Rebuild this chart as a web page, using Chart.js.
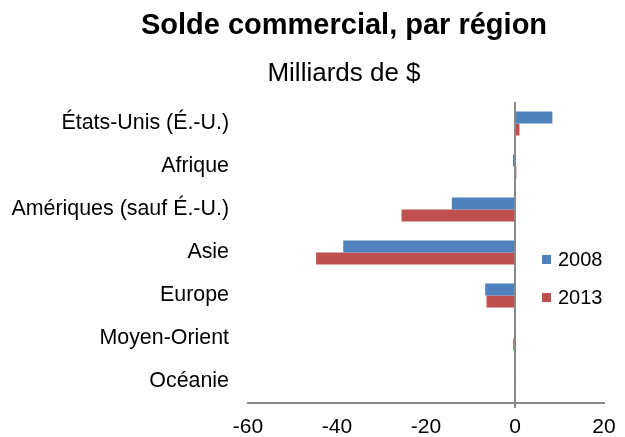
<!DOCTYPE html>
<html>
<head>
<meta charset="utf-8">
<script src="https://cdn.jsdelivr.net/npm/chart.js@4.4.0/dist/chart.umd.min.js"></script>
<style>
    html, body { margin: 0; padding: 0; background: #fff; }
    #wrap { position: relative; width: 625px; height: 437px; }
    #legend { position: absolute; left: 542px; top: 246px; font: 20px 'Liberation Sans', Arial, sans-serif; color: #000; }
    .item { display: flex; align-items: center; height: 26px; margin-bottom: 12px; }
    .box { width: 9px; height: 9px; margin-right: 7px; }
</style>
</head>
<body>
<div id="wrap">
    <canvas id="chart" width="625" height="437"></canvas>
    <div id="legend"></div>
</div>
<script>
// Data
var regions = ['États-Unis (É.-U.)', 'Afrique', 'Amériques (sauf É.-U.)', 'Asie', 'Europe', 'Moyen-Orient', 'Océanie'];
var seriesNames = ['2008', '2013'];
var values2008 = [8.4, -0.45, -14.2, -38.6, -6.7, 0.2, 0.2];
var values2013 = [1.0, 0.3, -25.5, -44.7, -6.4, -0.4, -0.2];
var xTicks = [-60, -40, -20, 0, 20];
var colors = ['#4F81BD', '#C0504D'];

var fontFamily = "'Liberation Sans', Arial, sans-serif";
var axisGray = '#898989';

// The title block in the reference is centred a bit right of the canvas centre
var titleShift = {
    id: 'titleShift',
    afterLayout: function(chart) {
        chart.boxes.forEach(function(b) {
            if (b.position === 'top' && b.options && b.options.text) {
                b.left += 42;
                b.right += 42;
            }
        });
    }
};

var ctx = document.getElementById('chart').getContext('2d');
var chart = new Chart(ctx, {
    type: 'bar',
    data: {
        labels: regions,
        datasets: [{
            label: seriesNames[0],
            data: values2008,
            backgroundColor: colors[0],
            categoryPercentage: 0.56,
            barPercentage: 1.0
        }, {
            label: seriesNames[1],
            data: values2013,
            backgroundColor: colors[1],
            categoryPercentage: 0.56,
            barPercentage: 1.0
        }]
    },
    plugins: [titleShift],
    options: {
        indexAxis: 'y',
        responsive: false,
        animation: false,
        layout: {
            padding: { left: 0, right: 21, top: 6, bottom: 0 }
        },
        scales: {
            x: {
                type: 'linear',
                min: xTicks[0],
                max: xTicks[xTicks.length - 1],
                afterBuildTicks: function(scale) {
                    scale.ticks = xTicks.map(function(v) { return { value: v }; });
                },
                afterFit: function(scale) { scale.height = 34; },
                grid: {
                    color: function(c) { return c.tick && c.tick.value === 0 ? axisGray : 'rgba(0,0,0,0)'; },
                    lineWidth: 2,
                    tickLength: 5
                },
                border: { display: true, color: axisGray, width: 2 },
                ticks: {
                    color: '#000',
                    padding: 7,
                    maxRotation: 0,
                    font: { family: fontFamily, size: 21 }
                }
            },
            y: {
                grid: { display: false },
                border: { display: false },
                afterFit: function(scale) { scale.width = 248; },
                ticks: {
                    color: '#000',
                    padding: 11,
                    font: { family: fontFamily, size: 21.4 }
                }
            }
        },
        plugins: {
            legend: { display: false },
            tooltip: { enabled: false },
            title: {
                display: true,
                text: 'Solde commercial, par région',
                color: '#000',
                font: { family: fontFamily, size: 29, weight: 'bold' },
                padding: { top: 3, bottom: 14 }
            },
            subtitle: {
                display: true,
                text: 'Milliards de $',
                color: '#000',
                font: { family: fontFamily, size: 26, weight: 'normal' },
                padding: { top: 0, bottom: 13 }
            }
        }
    }
});

// Legend as HTML, placed inside the plot area like the reference
var legend = document.getElementById('legend');
seriesNames.forEach(function(name, i) {
    var item = document.createElement('div');
    item.className = 'item';
    item.innerHTML = '<span class="box" style="background:' + colors[i] + '"></span><span>' + name + '</span>';
    legend.appendChild(item);
});
</script>
</body>
</html>
